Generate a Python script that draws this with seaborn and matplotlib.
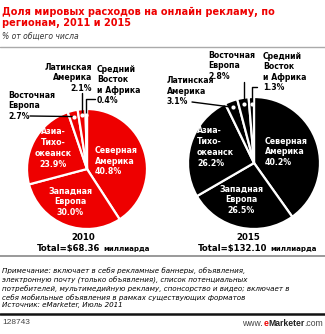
import numpy as np
import matplotlib
matplotlib.use("Agg")
import matplotlib.pyplot as plt
import seaborn as sns

# Regions in drawing order (clockwise from 12 o'clock)
regions_2010 = ["Северная\nАмерика", "Западная\nЕвропа", "Азиа-\nТихо-\nокеанск",
                "Восточная\nЕвропа", "Латинская\nАмерика", "Средний\nВосток\nи Африка"]
shares_2010 = [40.8, 30.0, 23.9, 2.7, 2.1, 0.4]

regions_2015 = ["Северная\nАмерика", "Западная\nЕвропа", "Азиа-\nТихо-\nокеанск",
                "Латинская\nАмерика", "Восточная\nЕвропа", "Средний\nВосток\nи Африка"]
shares_2015 = [40.2, 26.5, 26.2, 3.1, 2.8, 1.3]

years = ["2010", "2015"]
totals = ["Total=$68.36", "Total=$132.10"]

RED = "#ee0000"
BLACK = "#000000"

sns.set_theme(style="white")
plt.rcParams["font.family"] = ["DejaVu Sans"]

W, H = 325, 334
fig = plt.figure(figsize=(W / 100, H / 100), dpi=100)
ax = fig.add_axes([0, 0, 1, 1])


def Y(y):
    """pixel row (from top) -> data y"""
    return H - y


def draw_pie(shares, center, radius, color):
    cx, cy = center
    ax.pie(shares, colors=[color] * len(shares), startangle=90, counterclock=False,
           center=(cx, Y(cy)), radius=radius, frame=True,
           wedgeprops=dict(edgecolor="white", linewidth=1.6))
    total = sum(shares)
    cum = np.cumsum([0] + list(shares))
    pts = []
    for i, v in enumerate(shares):
        mid = np.radians(90 - 360 * (cum[i] + v / 2) / total)
        r = radius * 0.9
        pts.append((cx + r * np.cos(mid), Y(cy) + r * np.sin(mid)))
    return pts


c1, r1 = (87, 169), 60
c2, r2 = (254, 163), 66
p1 = draw_pie(shares_2010, c1, r1, RED)
p2 = draw_pie(shares_2015, c2, r2, BLACK)
ax.set_xlim(0, W)
ax.set_ylim(0, H)
ax.set_aspect("auto")
ax.axis("off")

inner = dict(color="white", fontsize=5.7, fontweight="bold", linespacing=1.25, va="center")
outer = dict(color="black", fontsize=5.6, fontweight="bold", linespacing=1.2, va="center")

# 2010 inner labels
ax.text(95, Y(161), f"{regions_2010[0]}\n{shares_2010[0]:.1f}%", ha="left", **inner)
ax.text(70, Y(202), f"{regions_2010[1]}\n{shares_2010[1]:.1f}%", ha="center", multialignment="center", **inner)
ax.text(53, Y(148), f"{regions_2010[2]}\n{shares_2010[2]:.1f}%", ha="center", multialignment="center", **inner)

# 2015 inner labels
ax.text(265, Y(152), f"{regions_2015[0]}\n{shares_2015[0]:.1f}%", ha="left", **inner)
ax.text(241, Y(200), f"{regions_2015[1]}\n{shares_2015[1]:.1f}%", ha="center", multialignment="center", **inner)
ax.text(197, Y(147), f"{regions_2015[2]}\n{shares_2015[2]:.1f}%", ha="left", **inner)

# small-slice markers
for pts in (p1, p2):
    for i in (3, 4, 5):
        ax.scatter([pts[i][0]], [pts[i][1]], s=9, color="white", zorder=5, linewidths=0)

lw = 1.0
# 2010 outer labels
ax.text(8, Y(106), f"{regions_2010[3]}\n{shares_2010[3]:.1f}%", ha="left", **outer)
ax.plot([30, p1[3][0]], [Y(116), p1[3][1]], color="black", lw=lw)
ax.text(92, Y(78), f"{regions_2010[4]}\n{shares_2010[4]:.1f}%", ha="right", multialignment="right", **outer)
ax.plot([p1[4][0], p1[4][0]], [Y(93), p1[4][1]], color="black", lw=lw)
ax.text(97, Y(85), f"{regions_2010[5]}\n{shares_2010[5]:.1f}%", ha="left", **outer)
ax.plot([95, p1[5][0], p1[5][0]], [Y(99), Y(99), p1[5][1]], color="black", lw=lw)

# 2015 outer labels
ax.text(167, Y(91), f"{regions_2015[3]}\n{shares_2015[3]:.1f}%", ha="left", **outer)
ax.plot([192, p2[3][0]], [Y(102), p2[3][1]], color="black", lw=lw)
ax.text(208, Y(66), f"{regions_2015[4]}\n{shares_2015[4]:.1f}%", ha="left", **outer)
ax.plot([p2[4][0], p2[4][0]], [Y(82), p2[4][1]], color="black", lw=lw)
ax.text(263, Y(72), f"{regions_2015[5]}\n{shares_2015[5]:.1f}%", ha="left", **outer)
ax.plot([257, p2[5][0], p2[5][0]], [Y(87), Y(87), p2[5][1]], color="black", lw=lw)

# title block
ax.text(2, Y(17.5), "Доля мировых расходов на онлайн рекламу, по\nрегионам, 2011 и 2015",
        ha="left", va="center", fontsize=7.0, fontweight="bold", color=RED, linespacing=1.2)
ax.text(2, Y(36), "% от общего числа", ha="left", va="center", fontsize=5.5,
        style="italic", color="#333333")
ax.plot([0, W], [Y(47), Y(47)], color="#aaaaaa", lw=1.0)

# notes
ax.plot([0, W], [Y(256), Y(256)], color="#888888", lw=1.2)
note = ("Примечание: включает в себя рекламные баннеры, объявления,\n"
        "электронную почту (только объявления), список потенциальных\n"
        "потребителей, мультимедийную рекламу, спонсорство и видео; включает в\n"
        "себя мобильные объявления в рамках существующих форматов\n"
        "Источник: eMarketer, Июль 2011")
ax.text(2, Y(288), note, ha="left", va="center", fontsize=5.12, style="italic",
        color="black", linespacing=1.3)
ax.plot([0, W], [Y(313.5), Y(313.5)], color="#111111", lw=1.8)

# footer
ax.text(2, Y(323), "128743", ha="left", va="center", fontsize=6.0, color="#444444",
        family="Liberation Sans")

fig.canvas.draw()
rend = fig.canvas.get_renderer()

# years and totals
ax.text(83, Y(237), years[0], ha="center", va="center", fontsize=6.2, fontweight="bold", color="black")
ax.text(248, Y(237), years[1], ha="center", va="center", fontsize=6.2, fontweight="bold", color="black")
for xs, tot in ((37, totals[0]), (198, totals[1])):
    t = ax.text(xs, Y(248), tot, ha="left", va="center", fontsize=6.1, fontweight="bold", color="black")
    bb = t.get_window_extent(rend)
    ax.text(xs + bb.width + 3, Y(248.5), "миллиарда", ha="left", va="center",
            fontsize=5.0, fontweight="bold", color="black")

x = 323
for txt, kw in ((".com", dict(color="#444444")),
                ("Marketer", dict(color="#222222", fontweight="bold")),
                ("e", dict(color=RED, fontweight="bold")),
                ("www.", dict(color="#444444"))):
    t = ax.text(x, Y(323), txt, ha="right", va="center", fontsize=6.2,
                family="Liberation Sans", **kw)
    bb = t.get_window_extent(rend)
    x -= bb.width

fig.savefig("out.png", dpi=100)
